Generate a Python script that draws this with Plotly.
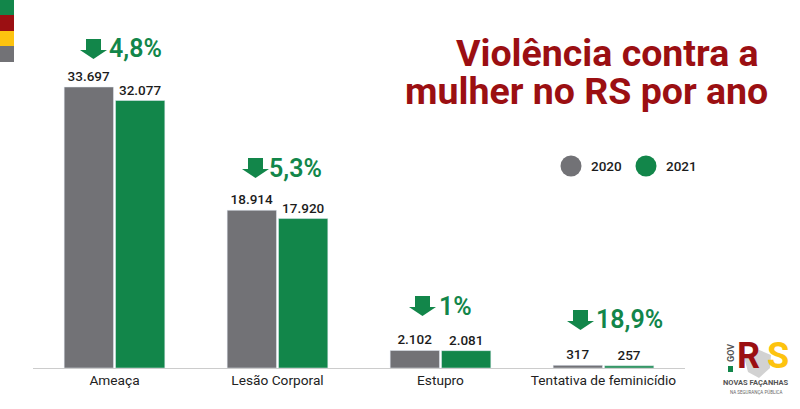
import plotly.graph_objects as go

categories = ["Ameaça", "Lesão Corporal", "Estupro", "Tentativa de feminicídio"]
values_2020 = [33697, 18914, 2102, 317]
values_2021 = [32077, 17920, 2081, 257]
labels_2020 = ["33.697", "18.914", "2.102", "317"]
labels_2021 = ["32.077", "17.920", "2.081", "257"]
drops = ["4,8%", "5,3%", "1%", "18,9%"]

GRAY = "#727276"
GREEN = "#12864a"
RED = "#9b0f12"
YELLOW = "#fdc30f"
W, H = 800, 409
ML, MR, MT, MB = 33, 115, 8, 41


# paper coords are relative to the plot area, so convert from picture pixels
def px_x(x):
    return (x - ML) / (W - ML - MR)


def px_y(y):
    return (H - MB - y) / (H - MT - MB)


def rect(x0, y0, x1, y1, color):
    return dict(type="rect", xref="paper", yref="paper", x0=px_x(x0), x1=px_x(x1),
                y0=px_y(y0), y1=px_y(y1), fillcolor=color, line_width=0, layer="above")


def circle(cx, cy, r, color):
    return dict(type="circle", xref="paper", yref="paper", x0=px_x(cx - r), x1=px_x(cx + r),
                y0=px_y(cy + r), y1=px_y(cy - r), fillcolor=color, line_width=0)


def poly(pts, color):
    path = "M " + " L ".join(f"{px_x(a):.5f},{px_y(b):.5f}" for a, b in pts) + " Z"
    return dict(type="path", xref="paper", yref="paper", path=path,
                fillcolor=color, line_width=0)


def down_arrow(x, y):
    # x, y = top left of the arrow box, in pixels
    pts = [(6, 0), (21, 0), (21, 11), (27, 11), (13.5, 20), (0, 11), (6, 11)]
    return poly([(x + a, y + b) for a, b in pts], GREEN)


def note(text, x, y, size, color, anchor="left", weight=400, angle=0):
    return dict(text=text, xref="paper", yref="paper", x=px_x(x), y=px_y(y),
                xanchor=anchor, yanchor="middle", showarrow=False, textangle=angle,
                font=dict(family="Roboto", size=size, color=color, weight=weight))


fig = go.Figure()
fig.add_trace(go.Bar(x=categories, y=values_2020, text=labels_2020, name="2020",
                     marker_color=GRAY, cliponaxis=False))
fig.add_trace(go.Bar(x=categories, y=values_2021, text=labels_2021, name="2021",
                     marker_color=GREEN, cliponaxis=False))
fig.update_traces(textposition="outside", textangle=0, constraintext="none",
                  textfont=dict(family="Roboto", size=13.5, color="#1c1c1c", weight=500))

shapes = [
    rect(0, 0, 14, 15, GREEN),
    rect(0, 15, 14, 31, RED),
    rect(0, 31, 14, 46, YELLOW),
    rect(0, 46, 14, 62, GRAY),
    circle(571, 166, 10.5, GRAY),
    circle(646, 166, 10.5, GREEN),
]
arrow_pos = [(80, 39), (242, 158), (409, 296), (567, 310)]
shapes += [down_arrow(*p) for p in arrow_pos]

# logo: green square and the face mask
shapes.append(rect(728, 366, 733, 372, GREEN))
shapes.append(poly([(744, 357), (757, 349), (771, 355), (770, 368), (759, 378), (748, 372)], "#d2d2d2"))

annotations = [
    note("Violência contra a", 454, 53, 37.5, RED, weight=700),
    note("mulher no RS por ano", 403, 91, 37.5, RED, weight=700),
    note("2020", 589, 166, 13.5, "#1c1c1c", weight=500),
    note("2021", 664, 166, 13.5, "#1c1c1c", weight=500),
]
drop_pos = [(106.5, 48), (266.5, 168), (436.5, 306), (594, 319)]
for txt, (x, y) in zip(drops, drop_pos):
    annotations.append(note(txt, x, y, 25, GREEN, weight=600))

# logo text
annotations += [
    note("R", 735, 356, 36, RED, weight=700),
    note("S", 765, 356, 36, YELLOW, weight=700),
    note("GOV", 731, 353, 9, "#555555", anchor="center", weight=700, angle=-90),
    note("NOVAS FAÇANHAS", 756, 382, 7.5, "#555555", anchor="center", weight=700),
    note("NA SEGURANÇA PÚBLICA", 756, 392, 4.5, "#666666", anchor="center"),
]

fig.update_layout(
    width=W, height=H,
    margin=dict(l=ML, r=MR, t=MT, b=MB),
    paper_bgcolor="white", plot_bgcolor="white",
    barmode="group", bargap=0.37, bargroupgap=0.04,
    shapes=shapes, annotations=annotations,
    showlegend=False,
    xaxis=dict(showline=True, linecolor="#cccccc", linewidth=1, ticks="",
               showgrid=False, tickfont=dict(family="Roboto", size=13.7, color="#222222")),
    yaxis=dict(range=[0, 43170], visible=False, showgrid=False),
)

fig.write_html("out.html", config={"displayModeBar": False},
               post_script="document.body.style.margin='0';")
